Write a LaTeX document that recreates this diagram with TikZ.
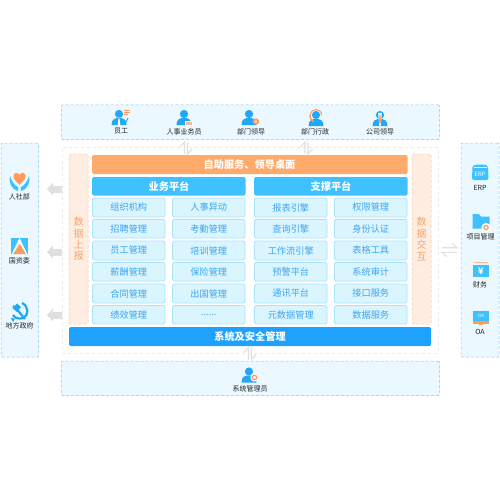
\documentclass[tikz,border=0pt]{standalone}
\usepackage{fontspec}
\setmainfont{Noto Sans CJK SC}
\usetikzlibrary{arrows.meta,calc}
\definecolor{cellfill}{HTML}{DBF5FF}
\definecolor{cellline}{HTML}{A9E4FF}
\definecolor{celltext}{HTML}{3DA5F0}
\definecolor{platblue}{HTML}{3FC1FF}
\definecolor{sysblue}{HTML}{1FA2FF}
\definecolor{orangebar}{HTML}{FFA96B}
\definecolor{orangepanel}{HTML}{FFEDE2}
\definecolor{orangeline}{HTML}{FFC199}
\definecolor{orangetext}{HTML}{F9A261}
\definecolor{boxfill}{HTML}{EBF8FF}
\definecolor{boxline}{HTML}{84C8F2}
\definecolor{icon}{HTML}{21A7F5}
\definecolor{iconor}{HTML}{FF9A5C}
\definecolor{graya}{HTML}{E0E0E0}
\definecolor{labeltext}{HTML}{222222}
\newcommand{\sixdots}{......}
\tikzset{
  x=1pt,y=-1pt,
  every node/.style={inner sep=0pt,outer sep=0pt},
  area/.style={draw=boxline,densely dashed,line width=.5pt,fill=boxfill,rounded corners=1pt},
  mainarea/.style={draw=black!8,dashed,line width=.6pt,fill=white},
  panel/.style={draw=orangeline,densely dashed,line width=.5pt,fill=orangepanel,rounded corners=1.5pt},
  bar/.style={rounded corners=1.5pt,text=white,font=\fontsize{10.2}{10}\selectfont\bfseries},
  cell/.style={draw=cellline,line width=.8pt,fill=cellfill,rounded corners=1.5pt,text=celltext,font=\fontsize{9.2}{10}\selectfont},
  lab/.style={text=labeltext,font=\fontsize{7}{7}\selectfont},
  vtext/.style={text=orangetext,align=center,font=\fontsize{10}{11.4}\selectfont},
  harp/.style={draw=graya,line width=1.1pt},
  block/.style={draw=graya,line width=7pt,-{Triangle[length=6pt,width=13pt]}}
}
\newcommand{\bx}[6]{\node[#1,anchor=north west,minimum width=#4-#2,minimum height=#5-#3] (#6) at (#2,#3)}
% person icon: x,y = centre of the head/shoulder glyph
\newcommand{\person}[2]{%
  \fill[icon] (#1,#2-4) circle (4.1);
  \fill[icon] (#1-7.5,#2+7) .. controls (#1-7.5,#2+1) and (#1-4,#2) .. (#1,#2) .. controls (#1+4,#2) and (#1+7.5,#2+1) .. (#1+7.5,#2+7) -- cycle;
}
\begin{document}
\begin{tikzpicture}
\useasboundingbox (0,0) rectangle (500,500);
\fill[white] (0,0) rectangle (500,500);

% outer areas
\bx{area}{61.5}{105}{439.5}{139.5}{userarea} {};
\bx{mainarea}{62}{147}{438}{353}{mainbox} {};
\bx{area}{61.5}{361}{439.5}{395.5}{adminarea} {};
\bx{area}{1}{143}{38.5}{357}{leftarea} {};
\bx{area}{461}{143}{499}{357}{rightarea} {};

% side panels
\bx{panel}{69}{154}{88}{324}{report} {};
\node[vtext] (reporttext) at (78.5,239) {数\\据\\上\\报};
\bx{panel}{412}{154}{431}{324}{exchange} {};
\node[vtext] (exchangetext) at (421.5,239) {数\\据\\交\\互};

% bars
\bx{bar,fill=orangebar}{92}{155}{407.5}{174}{desk} {};
\node[bar] (desktext) at (249.5,164.5) {自助服务、领导桌面};
\bx{bar,fill=platblue}{92}{177}{245.5}{195.5}{biz} {};
\node[bar] (biztext) at (169,186.5) {业务平台};
\bx{bar,fill=platblue}{254}{177}{407.5}{195.5}{sup} {};
\node[bar] (suptext) at (331,186.5) {支撑平台};
\bx{bar,fill=sysblue}{69}{327}{431}{346}{sys} {};
\node[bar] (systext) at (250,336.5) {系统及安全管理};

% cells
\foreach \ya/\yb/\ta/\tb/\tc/\td [count=\r] in {
  198/217/组织机构/人事异动/报表引擎/权限管理,
  219.5/238/招聘管理/考勤管理/查询引擎/身份认证,
  241/260/员工管理/培训管理/工作流引擎/表格工具,
  262.5/281/薪酬管理/保险管理/预警平台/系统审计,
  284/303/合同管理/出国管理/通讯平台/接口服务,
  305.5/324/绩效管理/\sixdots/元数据管理/数据服务}{
  \bx{cell}{92.5}{\ya}{165}{\yb}{ca\r} {\ta};
  \bx{cell}{172.5}{\ya}{245}{\yb}{cb\r} {\tb};
  \bx{cell}{254.5}{\ya}{327}{\yb}{cc\r} {\tc};
  \bx{cell}{334.5}{\ya}{407}{\yb}{cd\r} {\td};
}

% connectors
\foreach \n/\xa/\xb/\ya/\yb in {a/184.5/187.5/142/154, b/305/308/142/154, c/248.5/251.5/347.5/359.5}{
  \coordinate (\n up1) at (\xa,\yb);
  \coordinate (\n up2) at (\xa,\ya);
  \coordinate (\n dn1) at (\xb,\ya);
  \coordinate (\n dn2) at (\xb,\yb);
  \draw[harp] (\n up1) -- (\n up2) -- ++(-4.5,5);
  \draw[harp] (\n dn1) -- (\n dn2) -- ++(4.5,-5);
}
\coordinate (ex1) at (442,247.7); \coordinate (ex2) at (457,247.7);
\coordinate (ex3) at (457,252.3); \coordinate (ex4) at (442,252.3);
\draw[harp] (ex1) -- (ex2) -- ++(-5,-4.5);
\draw[harp] (ex3) -- (ex4) -- ++(5,4.5);
\foreach \y/\n in {189/p,252/q,315/r}{
  \coordinate (\n e) at (61.5,\y);
  \coordinate (\n t) at (47,\y);
  \draw[block] (\n e) -- (\n t);
}

% top row icons and labels
\person{119}{118}
\fill[white] (119,116) -- (117.6,124.5) -- (119,126) -- (120.4,124.5) -- cycle;
\draw[iconor,line width=.7pt] (124,110) -- (129.5,110) (124,112) -- (129.5,112) (124,114) -- (128,114);
\draw[icon,line width=.9pt] (128,118) -- (125,124);
\node[lab] (l1) at (121,131.5) {员工};

\person{184}{118}
\fill[white,draw=none] (185,121) rectangle (193,126);
\fill[iconor!70] (186,122.3) rectangle (191.5,124.5);
\node[lab] (l2) at (184,131.5) {人事业务员};

\person{249}{118}
\fill[iconor] (256,121.5) circle (3.2);
\fill[white] (256,121.5) circle (1.1);
\node[lab] (l3) at (251,131.5) {部门领导};

\person{316}{119}
\draw[iconor,line width=1pt] (310.5,115.5) .. controls (310,107.5) and (322,107.5) .. (321.5,115.5);
\draw[iconor,line width=1.3pt] (310,115) .. controls (310,118.5) and (311,120.5) .. (314,122);
\node[lab] (l4) at (315,131.5) {部门行政};

\person{380}{119}
\fill[white] (378.2,113) -- (381.8,113) -- (380.8,125.5) -- (379.2,125.5) -- cycle;
\fill[iconor] (379.4,115) -- (380.6,115) -- (380.9,122) -- (380,124.5) -- (379.1,122) -- cycle;
\node[lab] (l5) at (380,131.5) {公司领导};

% admin
\person{249}{375.5}
\fill[white] (254.5,377.5) circle (4.1);
\draw[iconor,line width=1.2pt] (254.5,377.5) circle (2.3);
\node[lab] (l6) at (250,388.5) {系统管理员};

% left icons
\fill[iconor] (19.5,185) .. controls (15,180.5) and (13,178) .. (13.5,175.5)
  .. controls (14,172.5) and (18,172) .. (19.5,175)
  .. controls (21,172) and (25,172.5) .. (25.5,175.5)
  .. controls (26,178) and (24,180.5) .. (19.5,185) -- cycle;
\fill[platblue] (10,176) .. controls (11.5,181) and (14,185) .. (18.5,187.5) -- (18,191) .. controls (12,190) and (8,182) .. (10,176) -- cycle;
\fill[platblue] (29,176) .. controls (27.5,181) and (25,185) .. (20.5,187.5) -- (21,191) .. controls (27,190) and (31,182) .. (29,176) -- cycle;
\node[lab] (l7) at (19.5,197) {人社部};

\fill[platblue] (11,238) rectangle (28,254);
\fill[iconor] (19.5,243) -- (25.5,254) -- (13.5,254) -- cycle;
\fill[white] (19.5,238) -- (21,241) -- (19.5,244) -- (13,254) -- (11.8,254) -- cycle;
\fill[white] (19.5,238) -- (27.2,254) -- (26,254) -- (19.5,243) -- cycle;
\node[lab] (l8) at (19.5,261) {国资委};

\draw[icon,line width=2.2pt] (22,303) .. controls (29,306) and (29,316) .. (23,318) .. controls (19,319.5) and (15,318) .. (13,315);
\draw[icon,line width=2.2pt] (13,306) -- (17,309.5) -- (25,319);
\fill[icon] (17,303.5) -- (21,307) -- (17,312) -- (12.5,308) -- cycle;
\fill[icon] (11,318) -- (15,318.5) -- (13,322) -- cycle;
\node[lab] (l9) at (19.5,325.5) {地方政府};

% right icons
\fill[platblue,rounded corners=1.5pt] (472.5,166) -- (476,164.5) -- (484.5,164.5) -- (488,166) -- (488.5,180) -- (472,180) -- cycle;
\draw[white,line width=.5pt] (474,167.5) -- (486.5,167.5);
\node[text=white,font=\fontsize{6}{6}\selectfont\itshape] (erpi) at (480.2,174) {ERP};
\node[lab] (l10) at (480,188) {ERP};

\fill[platblue] (472.5,214) -- (472.5,228.5) -- (489.5,228.5) -- (489.5,216.5) -- (481,216.5) -- (478.5,214) -- cycle;
\fill[white] (486,227.5) circle (4.6);
\draw[iconor,line width=1.2pt] (486,227.5) circle (2.2);
\node[lab] (l11) at (480.5,237) {项目管理};

\fill[iconor!65] (474,262) rectangle (487.5,263.2);
\fill[platblue] (473,265) rectangle (488.5,277);
\node[text=white,font=\fontsize{9}{9}\selectfont\bfseries] (cai) at (480.8,271) {¥};
\node[lab] (l12) at (480,285) {财务};

\fill[platblue] (473,311) rectangle (489,321);
\fill[iconor] (473,321) rectangle (489,323.5);
\fill[iconor] (479,323.5) rectangle (483,325);
\node[text=white,font=\fontsize{4.5}{5}\selectfont] (oai) at (481,316) {OA};
\node[lab] (l13) at (480,332) {OA};
\end{tikzpicture}
\end{document}
